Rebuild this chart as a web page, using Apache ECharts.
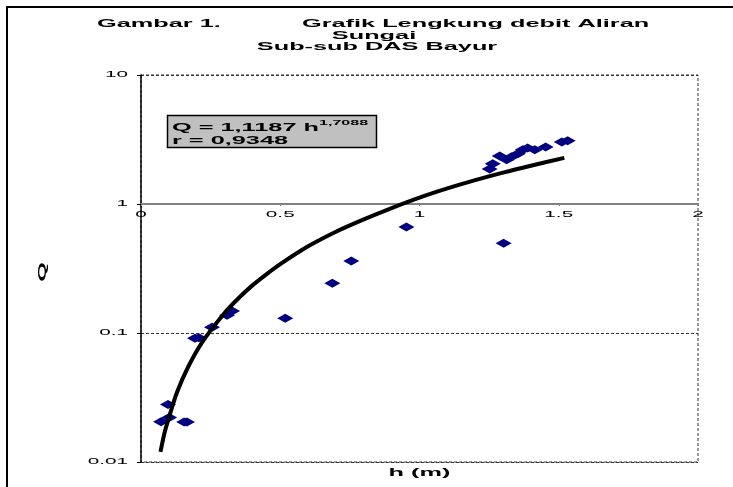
<!DOCTYPE html>
<html>
<head>
<meta charset="utf-8">
<script src="https://cdn.jsdelivr.net/npm/echarts@6/dist/echarts.min.js"></script>
<style>
html, body { margin: 0; padding: 0; background: #fff; }
#draw { width: 733px; height: 487px; }
</style>
</head>
<body>
<div id="draw"></div>
<script>
// data pengukuran h (m) dan Q
var obsH = [0.072, 0.097, 0.101, 0.155, 0.165,
	0.194, 0.208, 0.255, 0.309, 0.327, 0.518, 0.687, 0.755, 0.953, 1.302,
	1.252, 1.263, 1.288, 1.313, 1.331, 1.353, 1.371, 1.388, 1.414, 1.453, 1.511, 1.532];
var obsQ = [0.0205, 0.0279, 0.0221, 0.0204, 0.0204,
	0.091, 0.092, 0.111, 0.137, 0.148, 0.130, 0.243, 0.361, 0.662, 0.497,
	1.87, 2.05, 2.36, 2.20, 2.32, 2.45, 2.63, 2.72, 2.63, 2.77, 3.03, 3.09];

// garis lengkung
var curveH = [0.07, 0.085, 0.1, 0.13, 0.17, 0.22, 0.3, 0.35, 0.4, 0.45, 0.5, 0.6, 0.7, 0.8, 0.9, 1.0, 1.1, 1.2, 1.3, 1.4, 1.52];
var curveQ = [0.012, 0.017, 0.022, 0.035, 0.055, 0.085, 0.143, 0.186, 0.234, 0.285, 0.342, 0.47, 0.61, 0.76, 0.93, 1.12, 1.32, 1.53, 1.75, 1.98, 2.28];

var xTicks = [0, 0.5, 1, 1.5, 2];
var xTickLabels = ['0', '0.5', '1', '1.5', '2'];
var yTicks = [0.01, 0.1, 1, 10];
var yTickLabels = ['0.01', '0.1', '1', '10'];

var myChart = echarts.init(document.getElementById('draw'), null, { renderer : 'canvas' });

var pts = obsH.map(function(h, i) { return [h, obsQ[i]]; });
var curve = curveH.map(function(h, i) { return [h, curveQ[i]]; });

var font = 'Liberation Sans, Arial, sans-serif';
var wide = 2.3; // teks di gambar asli melebar
var plotLeft = 141, plotRight = 35, plotTop = 75, plotBottom = 25;

option = {
	animation : false,
	textStyle : { fontFamily : font },
	grid : [ {
		left : plotLeft, right : plotRight, top : plotTop, bottom : plotBottom,
		outerBoundsMode : 'none',
		show : true, borderColor : '#333', borderWidth : 1, borderType : [3, 2]
	}, {
		left : plotLeft, right : plotRight, top : plotTop, height : (487 - plotTop - plotBottom) / 3,
		outerBoundsMode : 'none'
	} ],
	xAxis : [ {
		gridIndex : 0, type : 'value', min : xTicks[0], max : xTicks[xTicks.length - 1], interval : 0.5,
		axisLine : { show : false }, axisTick : { show : false }, axisLabel : { show : false },
		splitLine : { show : false }
	}, {
		gridIndex : 1, type : 'value', min : xTicks[0], max : xTicks[xTicks.length - 1], interval : 0.5,
		axisLine : { show : true, lineStyle : { color : '#808080', width : 2 } },
		axisTick : { show : true, length : 2, lineStyle : { color : '#808080' } },
		axisLabel : { show : false },
		splitLine : { show : false }
	} ],
	yAxis : [ {
		gridIndex : 0, type : 'log', logBase : 10, min : yTicks[0], max : yTicks[yTicks.length - 1],
		axisLine : { show : true, lineStyle : { color : '#000', width : 1.5 } },
		axisTick : { show : true, length : 4, lineStyle : { color : '#000' } },
		minorTick : { show : false },
		axisLabel : { show : false },
		splitLine : { show : true, lineStyle : { color : '#333', type : [3, 2], width : 1 } }
	}, {
		gridIndex : 1, type : 'value', min : 0, max : 1, show : false
	} ],
	series : [ {
		name : 'Q terukur',
		type : 'scatter',
		xAxisIndex : 0, yAxisIndex : 0,
		data : pts,
		symbol : 'diamond',
		symbolSize : [16, 9],
		itemStyle : { color : '#000080', opacity : 1 },
		z : 3
	}, {
		name : 'lengkung',
		type : 'line',
		xAxisIndex : 0, yAxisIndex : 0,
		data : curve,
		smooth : 0.3,
		showSymbol : false,
		lineStyle : { color : '#000', width : 4 },
		z : 4
	} ]
};
myChart.setOption(option);

// label sumbu dan judul (teks melebar seperti aslinya)
function wideText(x, y, text, size, bold, align, extra) {
	var el = {
		type : 'text', x : x, y : y, scaleX : wide, z : 20,
		style : {
			text : text, fill : '#000', align : align, verticalAlign : 'middle',
			font : (bold ? 'bold ' : '') + size + 'px ' + font
		}
	};
	if (extra) {
		for (var k in extra) el[k] = extra[k];
	}
	return el;
}

var graphics = [ {
	type : 'rect',
	shape : { x : 7, y : 7, width : 800, height : 600 },
	style : { fill : 'none', stroke : '#000', lineWidth : 2 },
	silent : true
} ];

graphics.push(wideText(97, 24, 'Gambar 1.', 11, true, 'left'));
graphics.push(wideText(302, 24, 'Grafik Lengkung debit Aliran', 11, true, 'left'));
graphics.push(wideText(374, 35.5, 'Sungai', 11, true, 'center'));
graphics.push(wideText(377, 46.5, 'Sub-sub DAS Bayur', 11, true, 'center'));

// kotak persamaan
graphics.push({
	type : 'rect',
	shape : { x : 167.5, y : 115.5, width : 209, height : 32 },
	style : { fill : '#c0c0c0', stroke : '#000', lineWidth : 1.5 },
	z : 10
});
graphics.push({
	type : 'text', x : 172, y : 120, scaleX : wide, z : 11,
	style : {
		text : '{b|Q = 1,1187 h}{s|1,7088}\n{b|r = 0,9348}',
		align : 'left', verticalAlign : 'top',
		rich : {
			b : { font : 'bold 11px ' + font, fill : '#000', lineHeight : 13, verticalAlign : 'bottom' },
			s : { font : 'bold 7px ' + font, fill : '#000', lineHeight : 13, verticalAlign : 'top', padding : [0, 0, 5, 0] }
		}
	}
});

xTicks.forEach(function(t, i) {
	var p = myChart.convertToPixel({ gridIndex : 0 }, [t, 1]);
	graphics.push(wideText(p[0], p[1] + 11, xTickLabels[i], 9, false, 'center'));
});
yTicks.forEach(function(t, i) {
	var p = myChart.convertToPixel({ gridIndex : 0 }, [0, t]);
	graphics.push(wideText(p[0] - 13, p[1], yTickLabels[i], 9, false, 'right'));
});

var mid = myChart.convertToPixel({ gridIndex : 0 }, [1, 0.01]);
graphics.push(wideText(mid[0], 473, 'h (m)', 11, true, 'center'));
graphics.push(wideText(43, 272, 'Q', 11, true, 'center', { rotation : Math.PI / 2 }));

myChart.setOption({ graphic : graphics });
</script>
</body>
</html>
